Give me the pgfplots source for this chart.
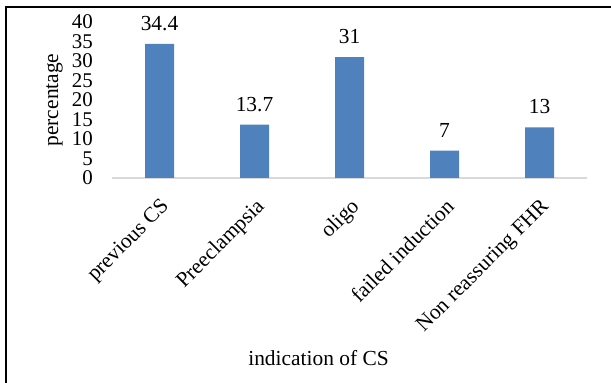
\documentclass[border=0pt]{standalone}
\usepackage{pgfplots}
\pgfplotsset{compat=1.18}
\usepackage{fontspec}
\setmainfont{Liberation Serif}
\definecolor{barblue}{RGB}{79,129,189}
\definecolor{axisgray}{RGB}{217,217,217}
\begin{document}
\begin{tikzpicture}[font=\fontsize{21.5}{23}\selectfont]
\path[use as bounding box] (0,0) rectangle (611bp,383bp);
\draw[line width=2bp, black] (6bp,-5bp) -- (6bp,376bp) -- (620bp,376bp);
\begin{axis}[
  at={(112bp,205bp)}, anchor=south west,
  scale only axis, width=475bp, height=156bp,
  xmin=-0.5, xmax=4.5, ymin=0, ymax=40,
  axis lines*=left,
  x axis line style={-, draw=axisgray, line width=1.5bp},
  y axis line style={draw=none},
  major tick length=0pt,
  xtick={0,1,2,3,4},
  xticklabels={previous CS, Preeclampsia, oligo, failed induction, Non reassuring FHR},
  ytick={0,5,...,40},
  /pgf/number format/assume math mode=true,
  yticklabel style={inner sep=0pt, xshift=-19bp, font=\fontsize{21}{23}\selectfont},
  xticklabel style={xshift=0bp, yshift=-19bp, rotate=45, anchor=north east, inner sep=0pt, font=\fontsize{21.5}{23}\selectfont},
  ybar, bar width=29bp,
  nodes near coords,
  every node near coord/.append style={anchor=south, inner sep=0pt, yshift=13bp, text=black, font=\fontsize{21.5}{23}\selectfont},
  clip=false,
]
\addplot[draw=none, fill=barblue] coordinates {(0,34.4) (1,13.7) (2,31) (3,7) (4,13)};
\end{axis}
\node[anchor=base] at (318.5bp,18bp) {indication of CS};
\node[rotate=90, anchor=base] at (58bp,283bp) {percentage};
\end{tikzpicture}
\end{document}
